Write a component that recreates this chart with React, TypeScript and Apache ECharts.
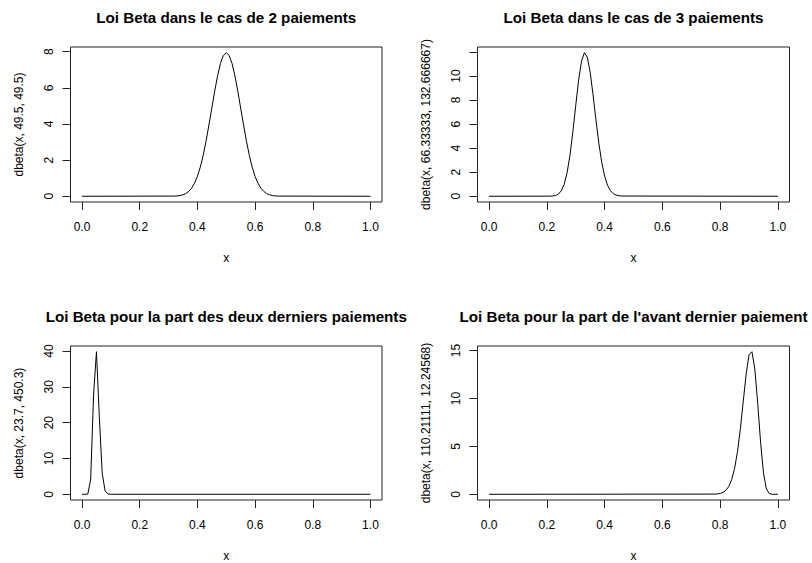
import React, { useEffect, useRef } from "react";
import * as echarts from "echarts";

// ---- data ----
const titles = [
  "Loi Beta dans le cas de 2 paiements",
  "Loi Beta dans le cas de 3 paiements",
  "Loi Beta pour la part des deux derniers paiements",
  "Loi Beta pour la part de l'avant dernier paiement",
];
const yNames = [
  "dbeta(x, 49.5, 49.5)",
  "dbeta(x, 66.33333, 132.666667)",
  "dbeta(x, 23.7, 450.3)",
  "dbeta(x, 110.21111, 12.24568)",
];
const xTicks = [0, 0.2, 0.4, 0.6, 0.8, 1.0];

const x1 = [0, 0.32, 0.33, 0.34, 0.35, 0.36, 0.37, 0.38, 0.39, 0.4, 0.41, 0.42, 0.43, 0.44, 0.45, 0.46, 0.47, 0.48, 0.49, 0.5,
  0.51, 0.52, 0.53, 0.54, 0.55, 0.56, 0.57, 0.58, 0.59, 0.6, 0.61, 0.62, 0.63, 0.64, 0.65, 0.66, 0.67, 0.68, 1];
const y1 = [0, 0.01, 0.02, 0.04, 0.08, 0.15, 0.27, 0.45, 0.72, 1.1, 1.61, 2.26, 3.05, 3.95, 4.88, 5.82, 6.67, 7.35, 7.79, 7.94,
  7.79, 7.35, 6.67, 5.82, 4.88, 3.95, 3.05, 2.26, 1.61, 1.1, 0.72, 0.45, 0.27, 0.15, 0.08, 0.04, 0.02, 0.01, 0];

const x2 = [0, 0.21, 0.22, 0.23, 0.24, 0.25, 0.26, 0.27, 0.28, 0.29, 0.3, 0.31, 0.32, 0.33, 0.34, 0.35, 0.36, 0.37, 0.38, 0.39,
  0.4, 0.41, 0.42, 0.43, 0.44, 0.45, 0.46, 1];
const y2 = [0, 0.01, 0.02, 0.06, 0.18, 0.45, 0.99, 1.94, 3.39, 5.33, 7.54, 9.65, 11.23, 11.93, 11.57, 10.31, 8.43, 6.35, 4.41, 2.83,
  1.68, 0.92, 0.47, 0.22, 0.1, 0.04, 0.02, 0];

const x3 = [0, 0.01, 0.02, 0.03, 0.04, 0.05, 0.06, 0.07, 0.08, 0.09, 0.1, 0.11, 1];
const y3 = [0, 0, 0.04, 4.26, 27.7, 39.8, 21.5, 5.82, 0.94, 0.1, 0.01, 0, 0];

const x4 = [0, 0.78, 0.79, 0.8, 0.81, 0.82, 0.83, 0.84, 0.85, 0.86, 0.87, 0.88, 0.89, 0.9, 0.91, 0.92, 0.93, 0.94, 0.95, 0.96,
  0.97, 0.98, 1];
const y4 = [0, 0.02, 0.04, 0.09, 0.2, 0.42, 0.82, 1.54, 2.71, 4.47, 6.86, 9.72, 12.56, 14.56, 14.88, 13.06, 9.47, 5.38, 2.2, 0.56,
  0.07, 0, 0];

const yTicks = [
  [0, 2, 4, 6, 8],
  [0, 2, 4, 6, 8, 10, 12],
  [0, 10, 20, 30, 40],
  [0, 5, 10, 15],
];
const yLabels = [
  [0, 2, 4, 6, 8],
  [0, 2, 4, 6, 8, 10],
  [0, 10, 20, 30, 40],
  [0, 5, 10, 15],
];

const xsAll = [x1, x2, x3, x4];
const ysAll = [y1, y2, y3, y4];

// ---- layout ----
const grids = [
  { left: 70.5, top: 47, width: 311.5, height: 155 },
  { left: 477.5, top: 47, width: 312, height: 155 },
  { left: 70.5, top: 346, width: 311.5, height: 155 },
  { left: 477.5, top: 346, width: 312, height: 155 },
];

const FONT = "'Liberation Sans', Arial, Helvetica, sans-serif";
const INK = "#000";

export default function App() {
  const ref = useRef<HTMLDivElement>(null);

  useEffect(() => {
    if (!ref.current) return;
    const chart = echarts.init(ref.current, undefined, { renderer: "svg" });

    const option: any = {
      animation: false,
      backgroundColor: "#fff",
      title: grids.map((g, i) => ({
        text: titles[i],
        left: g.left + g.width / 2,
        top: g.top - 37.5,
        textAlign: "center",
        padding: 0,
        textStyle: { fontFamily: FONT, fontSize: 15.2, fontWeight: "bold", color: INK },
      })),
      grid: grids.map((g) => ({
        ...g,
        show: true,
        borderColor: "#222",
        borderWidth: 1,
        backgroundColor: "transparent",
        containLabel: false,
      })),
      xAxis: grids.map((g, i) => ({
        gridIndex: i,
        type: "value",
        min: -0.04,
        max: 1.04,
        name: "x",
        nameLocation: "middle",
        nameGap: 50,
        nameTextStyle: { fontFamily: FONT, fontSize: 12, color: INK },
        axisLine: { show: false, onZero: false },
        splitLine: { show: false },
        axisTick: { show: true, length: 8, customValues: xTicks, lineStyle: { color: "#222", width: 1 } },
        axisLabel: {
          customValues: xTicks,
          formatter: (v: number) => v.toFixed(1),
          margin: 19,
          fontFamily: FONT,
          fontSize: 12,
          color: INK,
        },
      })),
      yAxis: grids.map((g, i) => {
        const m = Math.max(...ysAll[i]);
        return {
          gridIndex: i,
          type: "value",
          min: -0.04 * m,
          max: 1.04 * m,
          name: yNames[i],
          nameLocation: "middle",
          nameGap: 46,
          nameRotate: 90,
          nameTextStyle: { fontFamily: FONT, fontSize: 12, color: INK },
          axisLine: { show: false, onZero: false },
          splitLine: { show: false },
          axisTick: { show: true, length: 8, customValues: yTicks[i], lineStyle: { color: "#222", width: 1 } },
          axisLabel: {
            customValues: yLabels[i],
            rotate: 90,
            margin: 16,
            fontFamily: FONT,
            fontSize: 12,
            color: INK,
          },
        };
      }),
      series: grids.map((g, i) => ({
        type: "line",
        xAxisIndex: i,
        yAxisIndex: i,
        showSymbol: false,
        symbol: "none",
        smooth: false,
        lineStyle: { color: INK, width: 1 },
        data: xsAll[i].map((x, k) => [x, ysAll[i][k]]),
      })),
    };

    chart.setOption(option);
    return () => chart.dispose();
  }, []);

  return (
    <div
      ref={ref}
      style={{ position: "fixed", left: 0, top: 0, width: 812, height: 563, background: "#fff" }}
    />
  );
}
